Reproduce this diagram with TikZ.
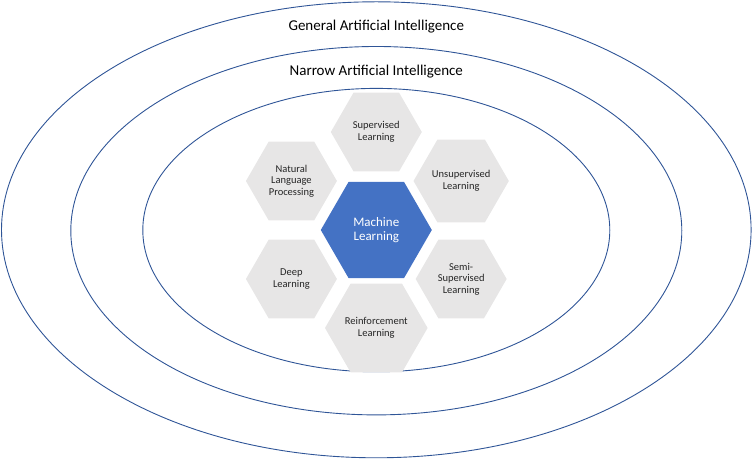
\documentclass[tikz,border=0pt]{standalone}
\usepackage{fontspec}
\setmainfont{Carlito}
\usepackage{xcolor}
\usepackage{tikz}
\usetikzlibrary{shapes.geometric,calc}
\definecolor{ringblue}{RGB}{47,85,151}
\definecolor{mlblue}{RGB}{68,114,196}
\definecolor{hexgray}{RGB}{231,230,230}
\definecolor{hextext}{RGB}{38,38,38}

\begin{document}
\begin{tikzpicture}[x=1pt,y=1pt,
    ring/.style={ringblue,line width=0.9pt},
    hexbase/.style={regular polygon,regular polygon sides=6,inner sep=0pt,align=center},
    grayhex/.style={hexbase,fill=hexgray,minimum size=91pt,text=hextext,
      font=\fontsize{10.5}{11.7}\selectfont},
    mlhex/.style={hexbase,fill=mlblue,minimum size=111pt,text=white,
      font=\fontsize{13}{14.5}\selectfont},
    levellabel/.style={anchor=base,text=black,font=\fontsize{15}{18}\selectfont}]
    \useasboundingbox (0,0) rectangle (753,460);

    % Rings
    \draw[ring] (376.3,230.2) ellipse [x radius=374.8, y radius=228];
    \draw[ring] (376.3,229.3) ellipse [x radius=305.5, y radius=184.2];
    \draw[ring] (376.3,229.9) ellipse [x radius=233.5, y radius=141.7];
    \node[levellabel] (gai) at (376.3,429) {General Artificial Intelligence};
    \node[levellabel] (nai) at (376.3,384) {Narrow Artificial Intelligence};

    % Machine learning and its fields
    \node[mlhex] (ml) at (376.3,230) {Machine\\Learning};
    \node[grayhex] (sup) at ($(ml)+(90:98)$) {Supervised\\Learning};
    \node[grayhex] (unsup) at ($(ml)+(30:98)$) {Unsupervised\\Learning};
    \node[grayhex] (semi) at ($(ml)+(-30:98)$) {Semi-\\Supervised\\Learning};
    \node[grayhex] (rl) at ($(ml)+(-90:98)$) {Reinforcement\\Learning};
    \node[grayhex] (deep) at ($(ml)+(210:98)$) {Deep\\Learning};
    \node[grayhex] (nlp) at ($(ml)+(150:98)$) {Natural\\Language\\Processing};
\end{tikzpicture}
\end{document}
